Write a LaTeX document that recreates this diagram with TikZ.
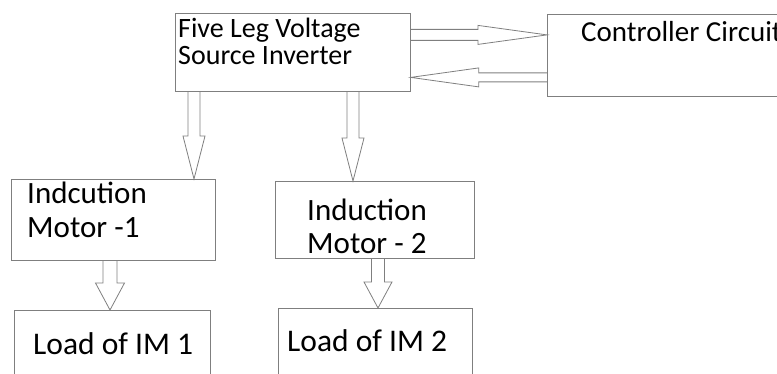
\documentclass[tikz,border=0pt]{standalone}
\usepackage{fontspec}
\setmainfont{Carlito}
\usepackage{tikz}
\usetikzlibrary{calc}
\definecolor{linegray}{HTML}{7F7F7F}
\newcommand{\hollowarrow}[5]{%
  \coordinate (hb) at ($(#2)!#5!(#1)$);
  \draw[arrowline] ($(#1)!#3!90:(#2)$) -- ($(hb)!#3!90:(#2)$) -- ($(hb)!#4!90:(#2)$) -- (#2)
    -- ($(hb)!#4!-90:(#2)$) -- ($(hb)!#3!-90:(#2)$) -- ($(#1)!#3!-90:(#2)$);
}

\begin{document}
\begin{tikzpicture}[x=1pt, y=-1pt,
    box/.style={draw=linegray, line width=0.8pt, anchor=north west, inner sep=0pt},
    arrowline/.style={draw=linegray, line width=0.8pt, line join=miter},
    boxtext/.style={anchor=base west, inner sep=0pt, align=left}]
    \clip (0,0) rectangle (777,374);
    \node[box, minimum width=235pt, minimum height=78pt] (inv) at (175,13) {};
    \node[box, minimum width=260pt, minimum height=82pt] (ctrl) at (547,14) {};
    \node[box, minimum width=204pt, minimum height=81pt] (im1) at (11,179) {};
    \node[box, minimum width=199pt, minimum height=77pt] (im2) at (275,181) {};
    \node[box, minimum width=196pt, minimum height=80pt] (load1) at (14,310) {};
    \node[box, minimum width=194pt, minimum height=80pt] (load2) at (278,308) {};
    \node[boxtext, font=\fontsize{28}{27}\selectfont] (invtext) at (178,65) {Five Leg Voltage\\Source Inverter};
    \node[boxtext, font=\fontsize{29}{29}\selectfont] (ctrltext) at (581,42) {Controller Circuit};
    \node[boxtext, font=\fontsize{31}{34}\selectfont] (im1text) at (27,238) {Indcution\\Motor -1};
    \node[boxtext, font=\fontsize{31}{33}\selectfont] (im2text) at (307,254) {Induction\\Motor - 2};
    \node[boxtext, font=\fontsize{31.5}{34}\selectfont] (load1text) at (33,354) {Load of IM 1};
    \node[boxtext, font=\fontsize{31.5}{34}\selectfont] (load2text) at (287,351) {Load of IM 2};
    \coordinate (a1) at ([yshift=17.5pt]inv.east);
    \coordinate (a2) at ([yshift=-25pt]inv.east);
    \coordinate (a3) at ([xshift=19pt]inv.south west);
    \coordinate (a4) at ([xshift=178pt]inv.south west);
    \coordinate (a5) at ([xshift=99pt]im1.south west);
    \coordinate (a6) at ([xshift=103pt]im2.south west);
    \hollowarrow{a1}{ctrl.west |- a1}{5.5pt}{9.5pt}{69pt}
    \hollowarrow{ctrl.west |- a2}{a2}{4.5pt}{9.5pt}{68pt}
    \hollowarrow{a3}{a3 |- im1.north}{6pt}{11pt}{43pt}
    \hollowarrow{a4}{a4 |- im2.north}{6pt}{11pt}{43pt}
    \hollowarrow{a5}{a5 |- load1.north}{7pt}{14.5pt}{27pt}
    \hollowarrow{a6}{a6 |- load2.north}{6.5pt}{14pt}{26pt}
\end{tikzpicture}
\end{document}
